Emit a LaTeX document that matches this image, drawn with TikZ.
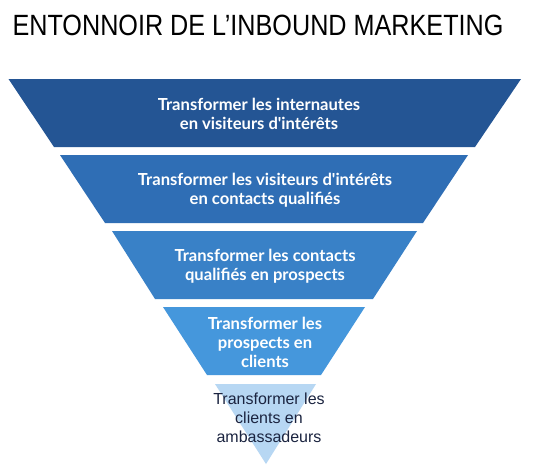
\documentclass[tikz,border=0pt]{standalone}
\usepackage{fontspec}
\setmainfont{Liberation Sans}
\newfontfamily\titlefont[FakeStretch=0.86]{Liberation Sans}
\newfontfamily\bandfont{Lato}
\definecolor{bandone}{HTML}{245594}
\definecolor{bandtwo}{HTML}{2F6EB5}
\definecolor{bandthree}{HTML}{3981C7}
\definecolor{bandfour}{HTML}{4597DC}
\definecolor{bandfive}{HTML}{B7D7F3}
\definecolor{darktext}{HTML}{1B2440}
\tikzset{
  titletext/.style={
    inner sep=0pt, font=\titlefont\fontsize{29.3}{34}\selectfont, text=black
  },
  bandtext/.style={
    align=center, inner sep=0pt, text=white,
    font=\bandfont\bfseries\fontsize{16.6}{19}\selectfont
  },
  tiptext/.style={
    align=center, inner sep=0pt, text=darktext,
    font=\fontsize{16}{19}\selectfont
  }
}

\begin{document}
\begin{tikzpicture}[x=1pt,y=-1pt]
  \useasboundingbox[fill=white] (0,0) rectangle (535,472);

  \node[titletext] (title) at (258,25) {ENTONNOIR DE L’INBOUND MARKETING};

  % Funnel bands, widest at the top.
  \fill[bandone] (8.5,79) -- (521,79) -- (475,147) -- (54,147) -- cycle;
  \fill[bandtwo] (60,155) -- (468,155) -- (423,223) -- (105,223) -- cycle;
  \fill[bandthree] (112,231) -- (417,231) -- (373,299) -- (155,299) -- cycle;
  \fill[bandfour] (163,307) -- (365,307) -- (321,375) -- (207,375) -- cycle;
  \fill[bandfive] (215,384) -- (316,384) -- (266,464) -- cycle;

  % Band labels.
  \node[bandtext] (internautes) at (259,114) {Transformer les internautes\\en visiteurs d'intérêts};
  \node[bandtext] (visiteurs) at (265,190) {Transformer les visiteurs d'intérêts\\en contacts qualifiés};
  \node[bandtext] (contacts) at (265,266) {Transformer les contacts\\qualifiés en prospects};
  \node[bandtext] (prospects) at (265,342) {Transformer les\\prospects en\\clients};
  \node[tiptext] (clients) at (269,418) {Transformer les\\clients en\\ambassadeurs};
\end{tikzpicture}
\end{document}
